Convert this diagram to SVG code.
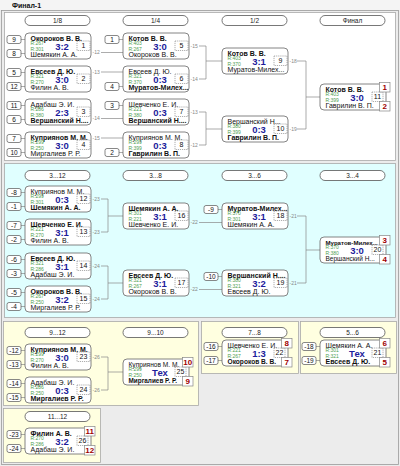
<svg xmlns="http://www.w3.org/2000/svg" width="400" height="466" viewBox="0 0 400 466">
<style>
text{font-family:"Liberation Sans",Arial,sans-serif}
.sec{stroke:#a8a8a8;stroke-width:0.8}
.pill{fill:#fff;stroke:#555;stroke-width:0.8}
.pt{font-size:6.5px;fill:#222;text-anchor:middle}
.bx{fill:#fff;stroke:#666;stroke-width:0.8}
.nm{font-size:7px;fill:#111}
.b{font-weight:bold}
.r{font-size:5px;fill:#4fa04f}
.sc{font-size:9.5px;font-weight:bold;fill:#1c1c9c;text-anchor:middle}
.dash{fill:#fff;stroke:#777;stroke-width:0.6;stroke-dasharray:1.2,0.9}
.num{font-size:7px;fill:#111;text-anchor:middle}
.seed{fill:#fff;stroke:#555;stroke-width:0.7}
.sd{font-size:6.5px;fill:#111;text-anchor:middle}
.pl{fill:#fff;stroke:#888;stroke-width:0.7}
.pn{font-size:8px;font-weight:bold;fill:#a00000;text-anchor:middle}
.lbl{font-size:5px;fill:#888}
.cn{stroke:#888;stroke-width:0.7;fill:none}
</style>
<rect width="400" height="466" fill="#ececec"/>
<rect x="0" y="0" width="400" height="10" fill="#f4f4f4"/>
<text x="12" y="7.5" font-size="7" font-weight="bold" fill="#111">Финал-1</text>
<rect x="1.5" y="10.5" width="397" height="454" fill="none" stroke="#999" stroke-width="0.8"/>

<g id="sections">
<rect class="sec" x="4.5" y="12.5" width="391" height="148" fill="#ffffff"/>
<rect class="sec" x="4.5" y="163.5" width="391" height="154" fill="#e0ffff"/>
<rect class="sec" x="3.5" y="321.5" width="195" height="84" fill="#ffffe0"/>
<rect class="sec" x="201.5" y="321.5" width="97" height="52" fill="#ffffe0"/>
<rect class="sec" x="300.5" y="321.5" width="96" height="52" fill="#ffffe0"/>
<rect class="sec" x="3.5" y="408.5" width="97" height="54" fill="#ffffe0"/>
</g>

<g id="headers">
<rect class="pill" x="25" y="15.5" width="65" height="10" rx="5"/><text class="pt" x="57.5" y="22.8">1/8</text>
<rect class="pill" x="123" y="15.5" width="65" height="10" rx="5"/><text class="pt" x="155.5" y="22.8">1/4</text>
<rect class="pill" x="222" y="15.5" width="65" height="10" rx="5"/><text class="pt" x="254.5" y="22.8">1/2</text>
<rect class="pill" x="320" y="15.5" width="65" height="10" rx="5"/><text class="pt" x="352.5" y="22.8">Финал</text>
<rect class="pill" x="25" y="170.5" width="65" height="10" rx="5"/><text class="pt" x="57.5" y="177.8">3...12</text>
<rect class="pill" x="123" y="170.5" width="65" height="10" rx="5"/><text class="pt" x="155.5" y="177.8">3...8</text>
<rect class="pill" x="222" y="170.5" width="65" height="10" rx="5"/><text class="pt" x="254.5" y="177.8">3...6</text>
<rect class="pill" x="320" y="170.5" width="65" height="10" rx="5"/><text class="pt" x="352.5" y="177.8">3...4</text>
<rect class="pill" x="25" y="327.5" width="65" height="10" rx="5"/><text class="pt" x="57.5" y="334.8">9...12</text>
<rect class="pill" x="123" y="327.5" width="65" height="10" rx="5"/><text class="pt" x="155.5" y="334.8">9...10</text>
<rect class="pill" x="222" y="327.5" width="65" height="10" rx="5"/><text class="pt" x="254.5" y="334.8">7...8</text>
<rect class="pill" x="320" y="327.5" width="65" height="10" rx="5"/><text class="pt" x="352.5" y="334.8">5...6</text>
<rect class="pill" x="25" y="411.5" width="65" height="10" rx="5"/><text class="pt" x="57.5" y="418.8">11...12</text>
</g>

<g id="connectors">
<path class="cn" d="M101 52.5H123M101 72H123M101 118.5H123M101 138H123"/>
<path class="cn" d="M199 46H206V79H199M206 61H222"/>
<path class="cn" d="M199 112H206V145H199M206 129H222"/>
<path class="cn" d="M297 61H306V129H297M306 97H320"/>
<path class="cn" d="M101 199H108V232H101M108 216H123"/>
<path class="cn" d="M101 266H108V299H101M108 283H123"/>
<path class="cn" d="M199 222.5H222M199 289.5H222"/>
<path class="cn" d="M297 216H306V283H297M306 250H320"/>
<path class="cn" d="M101 357H108V390H101M108 372H123"/>
</g>

<!-- Section 1 -->
<g id="m1" transform="translate(25,33)">
<line class="cn" x1="-4" y1="6.5" x2="0" y2="6.5"/><rect class="seed" x="-18" y="2.5" width="14" height="8" rx="2"/><text class="sd" x="-11" y="8.8">9</text>
<line class="cn" x1="-4" y1="20.5" x2="0" y2="20.5"/><rect class="seed" x="-18" y="16.5" width="14" height="8" rx="2"/><text class="sd" x="-11" y="22.8">8</text>
<rect class="bx" width="66" height="26" rx="4"/>
<text class="nm b" x="5.5" y="7.5">Окороков В. В.</text>
<text class="r" x="5.5" y="12">R:267</text><text class="r" x="5.5" y="17.5">R:301</text>
<text class="sc" x="37" y="16.5">3:2</text>
<rect class="dash" x="52" y="8" width="13" height="9.5"/><text class="num" x="58.5" y="15.3">1</text>
<text class="nm" x="5.5" y="23.8">Шемякин А. А.</text>
<text class="lbl" x="67.5" y="21.3">-12</text>
</g>
<g id="m2" transform="translate(25,66)">
<line class="cn" x1="-4" y1="6.5" x2="0" y2="6.5"/><rect class="seed" x="-18" y="2.5" width="14" height="8" rx="2"/><text class="sd" x="-11" y="8.8">5</text>
<line class="cn" x1="-4" y1="20.5" x2="0" y2="20.5"/><rect class="seed" x="-18" y="16.5" width="14" height="8" rx="2"/><text class="sd" x="-11" y="22.8">12</text>
<rect class="bx" width="66" height="26" rx="4"/>
<text class="nm b" x="5.5" y="7.5">Евсеев Д. Ю.</text>
<text class="r" x="5.5" y="12">R:321</text><text class="r" x="5.5" y="17.5">R:270</text>
<text class="sc" x="37" y="16.5">3:0</text>
<rect class="dash" x="52" y="8" width="13" height="9.5"/><text class="num" x="58.5" y="15.3">2</text>
<text class="nm" x="5.5" y="23.8">Филин А. В.</text>
<text class="lbl" x="67.5" y="7.8">-13</text>
</g>
<g id="m3" transform="translate(25,99)">
<line class="cn" x1="-4" y1="6.5" x2="0" y2="6.5"/><rect class="seed" x="-18" y="2.5" width="14" height="8" rx="2"/><text class="sd" x="-11" y="8.8">11</text>
<line class="cn" x1="-4" y1="20.5" x2="0" y2="20.5"/><rect class="seed" x="-18" y="16.5" width="14" height="8" rx="2"/><text class="sd" x="-11" y="22.8">6</text>
<rect class="bx" width="66" height="26" rx="4"/>
<text class="nm" x="5.5" y="7.5">Адабаш Э. И.</text>
<text class="r" x="5.5" y="12">R:286</text><text class="r" x="5.5" y="17.5">R:380</text>
<text class="sc" x="37" y="16.5">2:3</text>
<rect class="dash" x="52" y="8" width="13" height="9.5"/><text class="num" x="58.5" y="15.3">3</text>
<text class="nm b" x="5.5" y="23.8">Вершанский Н....</text>
<text class="lbl" x="67.5" y="21.3">-14</text>
</g>
<g id="m4" transform="translate(25,132)">
<line class="cn" x1="-4" y1="6.5" x2="0" y2="6.5"/><rect class="seed" x="-18" y="2.5" width="14" height="8" rx="2"/><text class="sd" x="-11" y="8.8">7</text>
<line class="cn" x1="-4" y1="20.5" x2="0" y2="20.5"/><rect class="seed" x="-18" y="16.5" width="14" height="8" rx="2"/><text class="sd" x="-11" y="22.8">10</text>
<rect class="bx" width="66" height="26" rx="4"/>
<text class="nm b" x="5.5" y="7.5">Куприянов М. М.</text>
<text class="r" x="5.5" y="12">R:299</text><text class="r" x="5.5" y="17.5">R:250</text>
<text class="sc" x="37" y="16.5">3:0</text>
<rect class="dash" x="52" y="8" width="13" height="9.5"/><text class="num" x="58.5" y="15.3">4</text>
<text class="nm" x="5.5" y="23.8">Миргалиев Р. Р.</text>
<text class="lbl" x="67.5" y="7.8">-15</text>
</g>
<g id="m5" transform="translate(123,33)">
<line class="cn" x1="-4" y1="6.5" x2="0" y2="6.5"/><rect class="seed" x="-18" y="2.5" width="14" height="8" rx="2"/><text class="sd" x="-11" y="8.8">1</text>
<rect class="bx" width="66" height="26" rx="4"/>
<text class="nm b" x="5.5" y="7.5">Котов В. В.</text>
<text class="r" x="5.5" y="12">R:403</text><text class="r" x="5.5" y="17.5">R:267</text>
<text class="sc" x="37" y="16.5">3:0</text>
<rect class="dash" x="52" y="8" width="13" height="9.5"/><text class="num" x="58.5" y="15.3">5</text>
<text class="nm" x="5.5" y="23.8">Окороков В. В.</text>
<text class="lbl" x="67.5" y="14.8">-15</text>
</g>
<g id="m6" transform="translate(123,66)">
<line class="cn" x1="-4" y1="20.5" x2="0" y2="20.5"/><rect class="seed" x="-18" y="16.5" width="14" height="8" rx="2"/><text class="sd" x="-11" y="22.8">4</text>
<rect class="bx" width="66" height="26" rx="4"/>
<text class="nm" x="5.5" y="7.5">Евсеев Д. Ю.</text>
<text class="r" x="5.5" y="12">R:321</text><text class="r" x="5.5" y="17.5">R:370</text>
<text class="sc" x="37" y="16.5">0:3</text>
<rect class="dash" x="52" y="8" width="13" height="9.5"/><text class="num" x="58.5" y="15.3">6</text>
<text class="nm b" x="5.5" y="23.8">Муратов-Милех...</text>
<text class="lbl" x="67.5" y="14.8">-14</text>
</g>
<g id="m7" transform="translate(123,99)">
<line class="cn" x1="-4" y1="6.5" x2="0" y2="6.5"/><rect class="seed" x="-18" y="2.5" width="14" height="8" rx="2"/><text class="sd" x="-11" y="8.8">3</text>
<rect class="bx" width="66" height="26" rx="4"/>
<text class="nm" x="5.5" y="7.5">Шевченко Е. И.</text>
<text class="r" x="5.5" y="12">R:221</text><text class="r" x="5.5" y="17.5">R:380</text>
<text class="sc" x="37" y="16.5">0:3</text>
<rect class="dash" x="52" y="8" width="13" height="9.5"/><text class="num" x="58.5" y="15.3">7</text>
<text class="nm b" x="5.5" y="23.8">Вершанский Н....</text>
<text class="lbl" x="67.5" y="14.8">-13</text>
</g>
<g id="m8" transform="translate(123,132)">
<line class="cn" x1="-4" y1="20.5" x2="0" y2="20.5"/><rect class="seed" x="-18" y="16.5" width="14" height="8" rx="2"/><text class="sd" x="-11" y="22.8">2</text>
<rect class="bx" width="66" height="26" rx="4"/>
<text class="nm" x="5.5" y="7.5">Куприянов М. М.</text>
<text class="r" x="5.5" y="12">R:299</text><text class="r" x="5.5" y="17.5">R:399</text>
<text class="sc" x="37" y="16.5">0:3</text>
<rect class="dash" x="52" y="8" width="13" height="9.5"/><text class="num" x="58.5" y="15.3">8</text>
<text class="nm b" x="5.5" y="23.8">Гаврилин В. П.</text>
<text class="lbl" x="67.5" y="14.8">-12</text>
</g>
<g id="m9" transform="translate(222,48)">
<rect class="bx" width="66" height="26" rx="4"/>
<text class="nm b" x="5.5" y="7.5">Котов В. В.</text>
<text class="r" x="5.5" y="12">R:403</text><text class="r" x="5.5" y="17.5">R:370</text>
<text class="sc" x="37" y="16.5">3:1</text>
<rect class="dash" x="52" y="8" width="13" height="9.5"/><text class="num" x="58.5" y="15.3">9</text>
<text class="nm" x="5.5" y="23.8">Муратов-Милех...</text>
<text class="lbl" x="67.5" y="14.8">-18</text>
</g>
<g id="m10" transform="translate(222,116)">
<rect class="bx" width="66" height="26" rx="4"/>
<text class="nm" x="5.5" y="7.5">Вершанский Н...</text>
<text class="r" x="5.5" y="12">R:380</text><text class="r" x="5.5" y="17.5">R:399</text>
<text class="sc" x="37" y="16.5">0:3</text>
<rect class="dash" x="52" y="8" width="13" height="9.5"/><text class="num" x="58.5" y="15.3">10</text>
<text class="nm b" x="5.5" y="23.8">Гаврилин В. П.</text>
<text class="lbl" x="67.5" y="14.8">-19</text>
</g>
<g id="m11" transform="translate(320,84)">
<rect class="bx" width="66" height="26" rx="4"/>
<text class="nm b" x="5.5" y="7.5">Котов В. В.</text>
<text class="r" x="5.5" y="12">R:403</text><text class="r" x="5.5" y="17.5">R:399</text>
<text class="sc" x="37" y="16.5">3:0</text>
<rect class="dash" x="52" y="8" width="11" height="9.5"/><text class="num" x="57.5" y="15.3">11</text>
<text class="nm" x="5.5" y="23.8">Гаврилин В. П.</text>
<rect class="pl" x="59.5" y="-1.5" width="10.5" height="9.5"/><text class="pn" x="64.75" y="5.8">1</text>
<rect class="pl" x="59.5" y="17.5" width="10.5" height="9.5"/><text class="pn" x="64.75" y="24.8">2</text>
</g>

<!-- Section 2 -->
<g id="m12" transform="translate(25,186)">
<line class="cn" x1="-4" y1="6.5" x2="0" y2="6.5"/><rect class="seed" x="-18" y="2.5" width="14" height="8" rx="2"/><text class="sd" x="-11" y="8.8">-8</text>
<line class="cn" x1="-4" y1="20.5" x2="0" y2="20.5"/><rect class="seed" x="-18" y="16.5" width="14" height="8" rx="2"/><text class="sd" x="-11" y="22.8">-1</text>
<rect class="bx" width="66" height="26" rx="4"/>
<text class="nm" x="5.5" y="7.5">Куприянов М. М.</text>
<text class="r" x="5.5" y="12">R:299</text><text class="r" x="5.5" y="17.5">R:301</text>
<text class="sc" x="37" y="16.5">0:3</text>
<rect class="dash" x="52" y="8" width="13" height="9.5"/><text class="num" x="58.5" y="15.3">12</text>
<text class="nm b" x="5.5" y="23.8">Шемякин А. А.</text>
<text class="lbl" x="67.5" y="14.8">-23</text>
</g>
<g id="m13" transform="translate(25,219)">
<line class="cn" x1="-4" y1="6.5" x2="0" y2="6.5"/><rect class="seed" x="-18" y="2.5" width="14" height="8" rx="2"/><text class="sd" x="-11" y="8.8">-7</text>
<line class="cn" x1="-4" y1="20.5" x2="0" y2="20.5"/><rect class="seed" x="-18" y="16.5" width="14" height="8" rx="2"/><text class="sd" x="-11" y="22.8">-2</text>
<rect class="bx" width="66" height="26" rx="4"/>
<text class="nm b" x="5.5" y="7.5">Шевченко Е. И.</text>
<text class="r" x="5.5" y="12">R:221</text><text class="r" x="5.5" y="17.5">R:270</text>
<text class="sc" x="37" y="16.5">3:1</text>
<rect class="dash" x="52" y="8" width="13" height="9.5"/><text class="num" x="58.5" y="15.3">13</text>
<text class="nm" x="5.5" y="23.8">Филин А. В.</text>
<text class="lbl" x="67.5" y="14.8">-23</text>
</g>
<g id="m14" transform="translate(25,253)">
<line class="cn" x1="-4" y1="6.5" x2="0" y2="6.5"/><rect class="seed" x="-18" y="2.5" width="14" height="8" rx="2"/><text class="sd" x="-11" y="8.8">-6</text>
<line class="cn" x1="-4" y1="20.5" x2="0" y2="20.5"/><rect class="seed" x="-18" y="16.5" width="14" height="8" rx="2"/><text class="sd" x="-11" y="22.8">-3</text>
<rect class="bx" width="66" height="26" rx="4"/>
<text class="nm b" x="5.5" y="7.5">Евсеев Д. Ю.</text>
<text class="r" x="5.5" y="12">R:321</text><text class="r" x="5.5" y="17.5">R:286</text>
<text class="sc" x="37" y="16.5">3:1</text>
<rect class="dash" x="52" y="8" width="13" height="9.5"/><text class="num" x="58.5" y="15.3">14</text>
<text class="nm" x="5.5" y="23.8">Адабаш Э. И.</text>
<text class="lbl" x="67.5" y="14.8">-24</text>
</g>
<g id="m15" transform="translate(25,286)">
<line class="cn" x1="-4" y1="6.5" x2="0" y2="6.5"/><rect class="seed" x="-18" y="2.5" width="14" height="8" rx="2"/><text class="sd" x="-11" y="8.8">-5</text>
<line class="cn" x1="-4" y1="20.5" x2="0" y2="20.5"/><rect class="seed" x="-18" y="16.5" width="14" height="8" rx="2"/><text class="sd" x="-11" y="22.8">-4</text>
<rect class="bx" width="66" height="26" rx="4"/>
<text class="nm b" x="5.5" y="7.5">Окороков В. В.</text>
<text class="r" x="5.5" y="12">R:267</text><text class="r" x="5.5" y="17.5">R:250</text>
<text class="sc" x="37" y="16.5">3:2</text>
<rect class="dash" x="52" y="8" width="13" height="9.5"/><text class="num" x="58.5" y="15.3">15</text>
<text class="nm" x="5.5" y="23.8">Миргалиев Р. Р.</text>
<text class="lbl" x="67.5" y="14.8">-24</text>
</g>
<g id="m16" transform="translate(123,203)">
<rect class="bx" width="66" height="26" rx="4"/>
<text class="nm b" x="5.5" y="7.5">Шемякин А. А.</text>
<text class="r" x="5.5" y="12">R:301</text><text class="r" x="5.5" y="17.5">R:221</text>
<text class="sc" x="37" y="16.5">3:1</text>
<rect class="dash" x="52" y="8" width="13" height="9.5"/><text class="num" x="58.5" y="15.3">16</text>
<text class="nm" x="5.5" y="23.8">Шевченко Е. И.</text>
<text class="lbl" x="67.5" y="21.3">-22</text>
</g>
<g id="m17" transform="translate(123,270)">
<rect class="bx" width="66" height="26" rx="4"/>
<text class="nm b" x="5.5" y="7.5">Евсеев Д. Ю.</text>
<text class="r" x="5.5" y="12">R:321</text><text class="r" x="5.5" y="17.5">R:267</text>
<text class="sc" x="37" y="16.5">3:1</text>
<rect class="dash" x="52" y="8" width="13" height="9.5"/><text class="num" x="58.5" y="15.3">17</text>
<text class="nm" x="5.5" y="23.8">Окороков В. В.</text>
<text class="lbl" x="67.5" y="21.3">-22</text>
</g>
<g id="m18" transform="translate(222,203)">
<line class="cn" x1="-4" y1="6.5" x2="0" y2="6.5"/><rect class="seed" x="-18" y="2.5" width="14" height="8" rx="2"/><text class="sd" x="-11" y="8.8">-9</text>
<rect class="bx" width="66" height="26" rx="4"/>
<text class="nm b" x="5.5" y="7.5">Муратов-Милех...</text>
<text class="r" x="5.5" y="12">R:370</text><text class="r" x="5.5" y="17.5">R:301</text>
<text class="sc" x="37" y="16.5">3:1</text>
<rect class="dash" x="52" y="8" width="13" height="9.5"/><text class="num" x="58.5" y="15.3">18</text>
<text class="nm" x="5.5" y="23.8">Шемякин А. А.</text>
<text class="lbl" x="67.5" y="14.8">-21</text>
</g>
<g id="m19" transform="translate(222,270)">
<line class="cn" x1="-4" y1="6.5" x2="0" y2="6.5"/><rect class="seed" x="-18" y="2.5" width="14" height="8" rx="2"/><text class="sd" x="-11" y="8.8">-10</text>
<rect class="bx" width="66" height="26" rx="4"/>
<text class="nm b" x="5.5" y="7.5">Вершанский Н....</text>
<text class="r" x="5.5" y="12">R:380</text><text class="r" x="5.5" y="17.5">R:321</text>
<text class="sc" x="37" y="16.5">3:2</text>
<rect class="dash" x="52" y="8" width="13" height="9.5"/><text class="num" x="58.5" y="15.3">19</text>
<text class="nm" x="5.5" y="23.8">Евсеев Д. Ю.</text>
<text class="lbl" x="67.5" y="14.8">-21</text>
</g>
<g id="m20" transform="translate(320,237)">
<rect class="bx" width="66" height="26" rx="4"/>
<text class="nm b" x="5.5" y="7.5" style="font-size:6.1px">Муратов-Милех...</text>
<text class="r" x="5.5" y="12">R:370</text><text class="r" x="5.5" y="17.5">R:380</text>
<text class="sc" x="37" y="16.5">3:0</text>
<rect class="dash" x="52" y="8" width="11" height="9.5"/><text class="num" x="57.5" y="15.3">20</text>
<text class="nm" x="5.5" y="23.8" style="font-size:6.5px">Вершанский Н...</text>
<rect class="pl" x="59.5" y="-1.5" width="10.5" height="9.5"/><text class="pn" x="64.75" y="5.8">3</text>
<rect class="pl" x="59.5" y="17.5" width="10.5" height="9.5"/><text class="pn" x="64.75" y="24.8">4</text>
</g>

<!-- Section 3 -->
<g id="m23" transform="translate(25,344)">
<line class="cn" x1="-4" y1="6.5" x2="0" y2="6.5"/><rect class="seed" x="-18" y="2.5" width="14" height="8" rx="2"/><text class="sd" x="-11" y="8.8">-12</text>
<line class="cn" x1="-4" y1="20.5" x2="0" y2="20.5"/><rect class="seed" x="-18" y="16.5" width="14" height="8" rx="2"/><text class="sd" x="-11" y="22.8">-13</text>
<rect class="bx" width="66" height="26" rx="4"/>
<text class="nm b" x="5.5" y="7.5">Куприянов М. М.</text>
<text class="r" x="5.5" y="12">R:299</text><text class="r" x="5.5" y="17.5">R:270</text>
<text class="sc" x="37" y="16.5">3:0</text>
<rect class="dash" x="52" y="8" width="13" height="9.5"/><text class="num" x="58.5" y="15.3">23</text>
<text class="nm" x="5.5" y="23.8">Филин А. В.</text>
<text class="lbl" x="67.5" y="14.8">-26</text>
</g>
<g id="m24" transform="translate(25,377)">
<line class="cn" x1="-4" y1="6.5" x2="0" y2="6.5"/><rect class="seed" x="-18" y="2.5" width="14" height="8" rx="2"/><text class="sd" x="-11" y="8.8">-14</text>
<line class="cn" x1="-4" y1="20.5" x2="0" y2="20.5"/><rect class="seed" x="-18" y="16.5" width="14" height="8" rx="2"/><text class="sd" x="-11" y="22.8">-15</text>
<rect class="bx" width="66" height="26" rx="4"/>
<text class="nm" x="5.5" y="7.5">Адабаш Э. И.</text>
<text class="r" x="5.5" y="12">R:286</text><text class="r" x="5.5" y="17.5">R:250</text>
<text class="sc" x="37" y="16.5">0:3</text>
<rect class="dash" x="52" y="8" width="13" height="9.5"/><text class="num" x="58.5" y="15.3">24</text>
<text class="nm b" x="5.5" y="23.8">Миргалиев Р. Р.</text>
<text class="lbl" x="67.5" y="14.8">-26</text>
</g>
<g id="m25" transform="translate(123,359)">
<rect class="bx" width="66" height="26" rx="4"/>
<text class="nm" x="5.5" y="7.5" style="font-size:6.6px">Куприянов М. М.</text>
<text class="r" x="5.5" y="12">R:299</text><text class="r" x="5.5" y="17.5">R:250</text>
<text class="sc" x="37" y="16.5">Тех</text>
<rect class="dash" x="52" y="8" width="11" height="9.5"/><text class="num" x="57.5" y="15.3">25</text>
<text class="nm b" x="5.5" y="23.8" style="font-size:6.4px">Миргалиев Р. Р.</text>
<rect class="pl" x="59.5" y="-1.5" width="10.5" height="9.5"/><text class="pn" x="64.75" y="5.8">10</text>
<rect class="pl" x="59.5" y="17.5" width="10.5" height="9.5"/><text class="pn" x="64.75" y="24.8">9</text>
</g>
<g id="m22" transform="translate(222,340)">
<line class="cn" x1="-4" y1="6.5" x2="0" y2="6.5"/><rect class="seed" x="-18" y="2.5" width="14" height="8" rx="2"/><text class="sd" x="-11" y="8.8">-16</text>
<line class="cn" x1="-4" y1="20.5" x2="0" y2="20.5"/><rect class="seed" x="-18" y="16.5" width="14" height="8" rx="2"/><text class="sd" x="-11" y="22.8">-17</text>
<rect class="bx" width="66" height="26" rx="4"/>
<text class="nm" x="5.5" y="7.5">Шевченко Е. И.</text>
<text class="r" x="5.5" y="12">R:221</text><text class="r" x="5.5" y="17.5">R:267</text>
<text class="sc" x="37" y="16.5">1:3</text>
<rect class="dash" x="52" y="8" width="11" height="9.5"/><text class="num" x="57.5" y="15.3">22</text>
<text class="nm b" x="5.5" y="23.8" style="font-size:6.6px">Окороков В. В.</text>
<rect class="pl" x="59.5" y="-1.5" width="10.5" height="9.5"/><text class="pn" x="64.75" y="5.8">8</text>
<rect class="pl" x="59.5" y="17.5" width="10.5" height="9.5"/><text class="pn" x="64.75" y="24.8">7</text>
</g>
<g id="m21" transform="translate(320,340)">
<line class="cn" x1="-4" y1="6.5" x2="0" y2="6.5"/><rect class="seed" x="-18" y="2.5" width="14" height="8" rx="2"/><text class="sd" x="-11" y="8.8">-18</text>
<line class="cn" x1="-4" y1="20.5" x2="0" y2="20.5"/><rect class="seed" x="-18" y="16.5" width="14" height="8" rx="2"/><text class="sd" x="-11" y="22.8">-19</text>
<rect class="bx" width="66" height="26" rx="4"/>
<text class="nm" x="5.5" y="7.5">Шемякин А. А.</text>
<text class="r" x="5.5" y="12">R:301</text><text class="r" x="5.5" y="17.5">R:321</text>
<text class="sc" x="37" y="16.5">Тех</text>
<rect class="dash" x="52" y="8" width="11" height="9.5"/><text class="num" x="57.5" y="15.3">21</text>
<text class="nm b" x="5.5" y="23.8">Евсеев Д. Ю.</text>
<rect class="pl" x="59.5" y="-1.5" width="10.5" height="9.5"/><text class="pn" x="64.75" y="5.8">6</text>
<rect class="pl" x="59.5" y="17.5" width="10.5" height="9.5"/><text class="pn" x="64.75" y="24.8">5</text>
</g>
<g id="m26" transform="translate(25,428)">
<line class="cn" x1="-4" y1="6.5" x2="0" y2="6.5"/><rect class="seed" x="-18" y="2.5" width="14" height="8" rx="2"/><text class="sd" x="-11" y="8.8">-23</text>
<line class="cn" x1="-4" y1="20.5" x2="0" y2="20.5"/><rect class="seed" x="-18" y="16.5" width="14" height="8" rx="2"/><text class="sd" x="-11" y="22.8">-24</text>
<rect class="bx" width="66" height="26" rx="4"/>
<text class="nm b" x="5.5" y="7.5">Филин А. В.</text>
<text class="r" x="5.5" y="12">R:270</text><text class="r" x="5.5" y="17.5">R:286</text>
<text class="sc" x="37" y="16.5">3:2</text>
<rect class="dash" x="52" y="8" width="11" height="9.5"/><text class="num" x="57.5" y="15.3">26</text>
<text class="nm" x="5.5" y="23.8">Адабаш Э. И.</text>
<rect class="pl" x="59.5" y="-1.5" width="10.5" height="9.5"/><text class="pn" x="64.75" y="5.8">11</text>
<rect class="pl" x="59.5" y="17.5" width="10.5" height="9.5"/><text class="pn" x="64.75" y="24.8">12</text>
</g>
</svg>
